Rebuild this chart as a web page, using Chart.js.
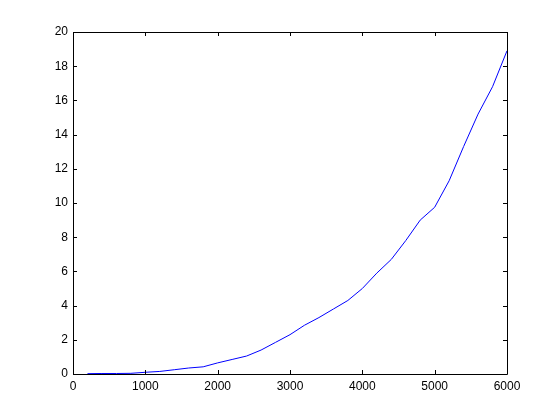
<!DOCTYPE html>
<html>
<head>
<meta charset="utf-8">
<script src="https://cdn.jsdelivr.net/npm/chart.js@4"></script>
<style>
  html, body { margin: 0; padding: 0; background: #fff; }
  #wrap { width: 560px; height: 420px; }
</style>
</head>
<body>
<div id="wrap"><canvas id="chart" width="560" height="420"></canvas></div>
<script>
// datos
const xValues = [200, 400, 600, 800, 1000, 1200, 1400, 1600, 1800, 2000,
                 2200, 2400, 2600, 2800, 3000, 3200, 3400, 3600, 3800, 4000,
                 4200, 4400, 4600, 4800, 5000, 5200, 5400, 5600, 5800, 6000];
const yValues = [0.02, 0.03, 0.03, 0.04, 0.1, 0.15, 0.25, 0.35, 0.42, 0.65,
                 0.85, 1.05, 1.4, 1.85, 2.3, 2.85, 3.3, 3.8, 4.3, 5.0,
                 5.9, 6.7, 7.8, 9.0, 9.75, 11.3, 13.3, 15.2, 16.8, 18.9];
const xTicks = [0, 1000, 2000, 3000, 4000, 5000, 6000];
const yTicks = [0, 2, 4, 6, 8, 10, 12, 14, 16, 18, 20];

const points = xValues.map((x, i) => ({ x: x, y: yValues[i] }));

// caja completa con marcas hacia adentro (estilo matlab)
const boxTicks = {
    id: 'boxTicks',
    afterDraw(chart) {
        const ctx = chart.ctx;
        const a = chart.chartArea;
        const xs = chart.scales.x, ys = chart.scales.y;
        const len = 4;
        ctx.save();
        ctx.strokeStyle = '#000';
        ctx.lineWidth = 1;
        ctx.beginPath();
        ctx.rect(Math.round(a.left) + 0.5, Math.round(a.top) + 0.5,
                 Math.round(a.right - a.left), Math.round(a.bottom - a.top));
        xTicks.forEach(v => {
            const px = Math.round(xs.getPixelForValue(v)) + 0.5;
            ctx.moveTo(px, a.bottom); ctx.lineTo(px, a.bottom - len);
            ctx.moveTo(px, a.top); ctx.lineTo(px, a.top + len);
        });
        yTicks.forEach(v => {
            const py = Math.round(ys.getPixelForValue(v)) + 0.5;
            ctx.moveTo(a.left, py); ctx.lineTo(a.left + len, py);
            ctx.moveTo(a.right, py); ctx.lineTo(a.right - len, py);
        });
        ctx.stroke();
        ctx.restore();
    }
};

new Chart(document.getElementById('chart').getContext('2d'), {
    type: 'line',
    data: {
        datasets: [{
            data: points,
            borderColor: '#0000ff',
            borderWidth: 1,
            pointRadius: 0,
            tension: 0,
            fill: false
        }]
    },
    options: {
        responsive: false,
        animation: false,
        layout: { padding: { left: 0, top: 32, right: 53, bottom: 0 } },
        plugins: { legend: { display: false }, tooltip: { enabled: false } },
        scales: {
            x: {
                type: 'linear',
                min: 0, max: 6000,
                afterFit: s => { s.height = 46; },
                afterBuildTicks: s => { s.ticks = xTicks.map(v => ({ value: v })); },
                grid: { display: false, drawTicks: false },
                border: { display: false },
                ticks: {
                    color: '#000',
                    padding: 5,
                    maxRotation: 0,
                    callback: v => String(v),
                    font: { family: 'Liberation Sans, Arial, sans-serif', size: 12 }
                }
            },
            y: {
                min: 0, max: 20,
                afterFit: s => { s.width = 73; },
                afterBuildTicks: s => { s.ticks = yTicks.map(v => ({ value: v })); },
                grid: { display: false, drawTicks: false },
                border: { display: false },
                ticks: {
                    color: '#000',
                    padding: 5,
                    callback: v => String(v),
                    font: { family: 'Liberation Sans, Arial, sans-serif', size: 12 }
                }
            }
        }
    },
    plugins: [boxTicks]
});
</script>
</body>
</html>
